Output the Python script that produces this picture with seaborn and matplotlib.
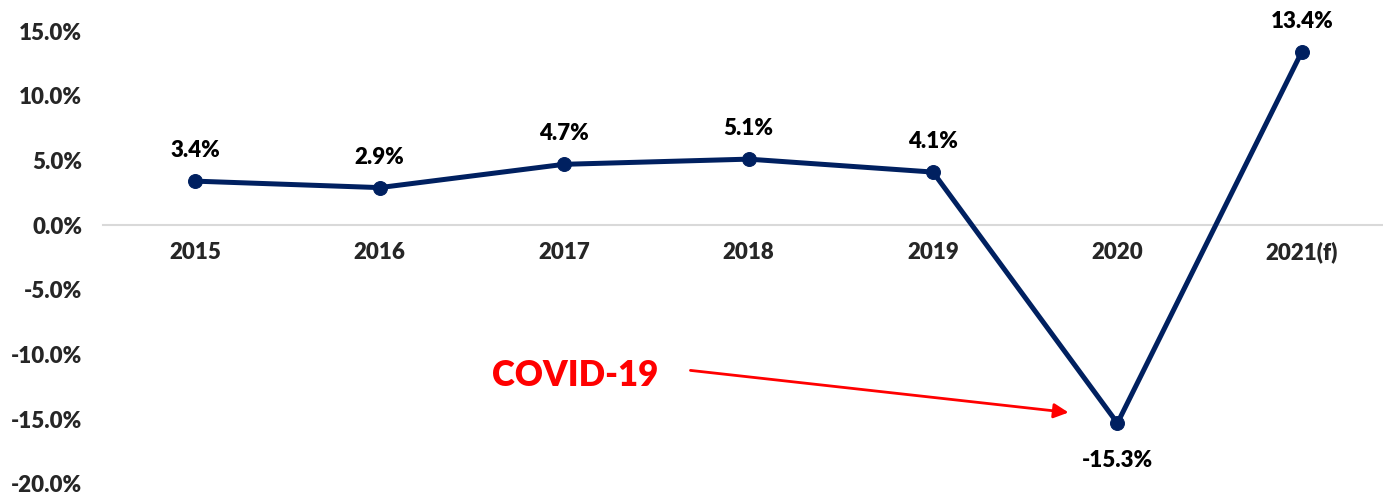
import pandas as pd
import matplotlib
matplotlib.use("Agg")
import matplotlib.pyplot as plt
import seaborn as sns

# Values
years = ["2015", "2016", "2017", "2018", "2019", "2020", "2021(f)"]
growth = [3.4, 2.9, 4.7, 5.1, 4.1, -15.3, 13.4]
y_ticks = [15, 10, 5, 0, -5, -10, -15, -20]
covid_year = "2020"

df = pd.DataFrame({"Year": years, "Growth": growth})
df["Pos"] = range(len(df))

sns.set_style("white")
plt.rcParams["font.family"] = ["Lato", "DejaVu Sans"]
plt.rcParams["font.weight"] = "heavy"

navy = "#002060"
weight = "heavy"

fig = plt.figure(figsize=(13.83, 4.97), dpi=100)
ax = fig.add_axes([0.0745, 0.0262, 0.9255, 0.9114])

sns.lineplot(
    data=df, x="Pos", y="Growth", ax=ax,
    color=navy, linewidth=3.6, marker="o", markersize=10,
    markeredgecolor=navy, markerfacecolor=navy, legend=False,
)

# spine at zero first (it resets the tick objects)
for side in ["top", "right", "left"]:
    ax.spines[side].set_visible(False)
ax.spines["bottom"].set_position(("data", 0))
ax.spines["bottom"].set_color("#d9d9d9")
ax.spines["bottom"].set_linewidth(1.5)
ax.spines["bottom"].set_zorder(0)

ax.set_xlim(-0.5, 6.44)
ax.set_ylim(-20, 15)
ax.set_yticks(y_ticks)
ax.set_yticklabels([f"{t:.1f}%" for t in y_ticks], fontsize=16, fontweight=weight)
ax.set_xticks(df["Pos"])
ax.set_xticklabels(df["Year"], fontsize=16, fontweight=weight)
ax.tick_params(axis="both", length=0)
ax.tick_params(axis="x", pad=12)
ax.tick_params(axis="y", pad=15)
ax.set_xlabel("")
ax.set_ylabel("")

# data labels
for pos, val in zip(df["Pos"], df["Growth"]):
    dy = -27 if val < 0 else 22
    ax.annotate(f"{val:.1f}%", (pos, val), xytext=(0, dy), textcoords="offset points",
                ha="center", va="center", fontsize=16, fontweight=weight, color="black")

# COVID-19 annotation
cpos = years.index(covid_year)
cval = growth[cpos]
ax.annotate("", xy=(cpos - 0.25, cval + 0.8), xytext=(cpos - 2.33, cval + 4.1),
            arrowprops=dict(arrowstyle="-|>", color="red", lw=2, mutation_scale=22))
ax.text(cpos - 2.94, cval + 3.7, "COVID-19", color="red", fontsize=25,
        fontweight=weight, ha="center", va="center")

fig.savefig("out.png", dpi=100)
